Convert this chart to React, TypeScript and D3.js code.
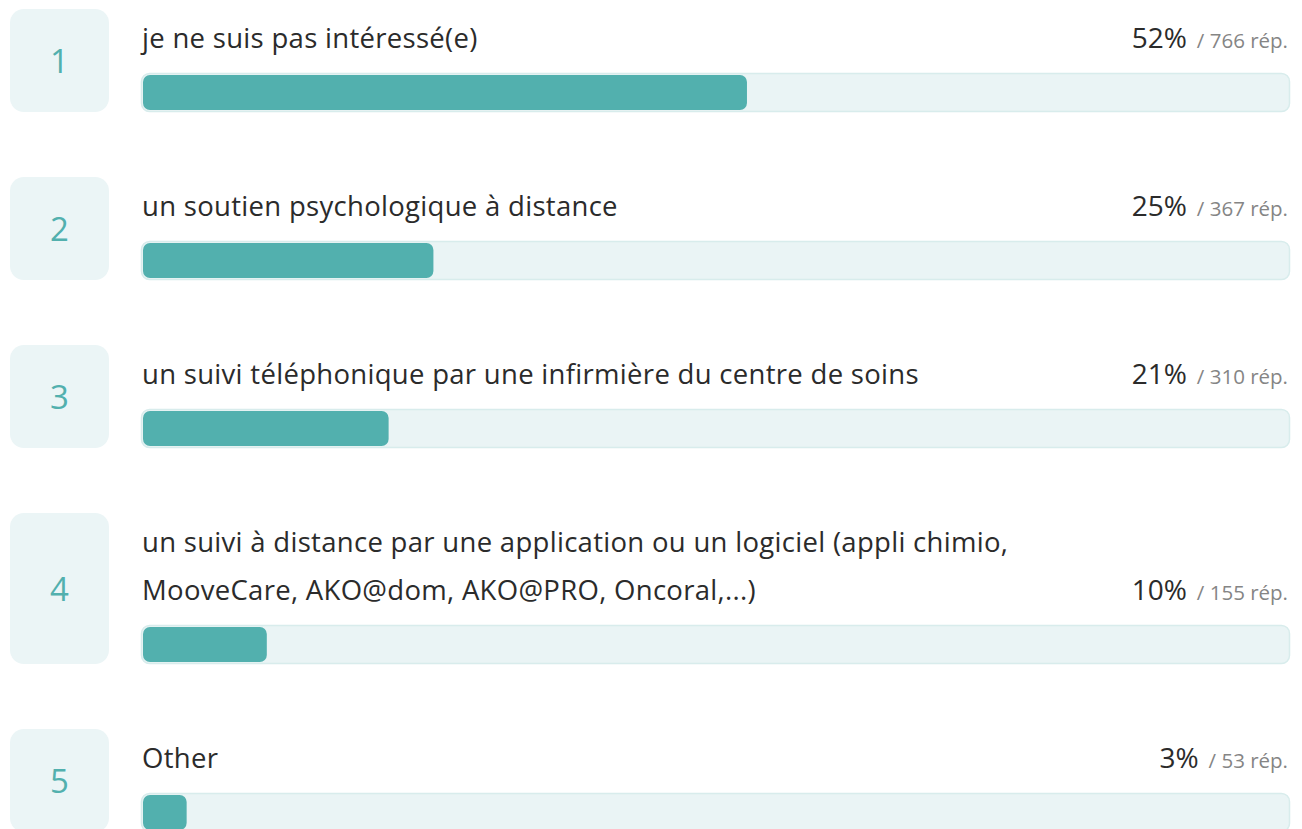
import React, { useEffect, useRef } from 'react';
import * as d3 from 'd3';

// answers, in rank order
const labels = [
  'je ne suis pas intéressé(e)',
  'un soutien psychologique à distance',
  'un suivi téléphonique par une infirmière du centre de soins',
  'un suivi à distance par une application ou un logiciel (appli chimio, MooveCare, AKO@dom, AKO@PRO, Oncoral,...)',
  'Other',
];
const counts = [766, 367, 310, 155, 53];
const percents = [52, 25, 21, 10, 3];
const totalRespondents = 1457;

const WIDTH = 1302;
const HEIGHT = 829;
const FONT = '"Open Sans", "Noto Sans", sans-serif';
const LABEL_SIZE = 27.5;
const LABEL_SPACING = 0.3;

const App = () => {
  const svgRef = useRef<SVGSVGElement>(null);

  useEffect(() => {
    document.body.style.margin = '0';
    const svg = d3.select(svgRef.current);
    svg.selectAll('*').remove();

    const boxX = 10;
    const boxW = 99;
    const trackX = 141;
    const trackW = 1149;
    const trackH = 39;
    const lineH = 48;
    const rowGap = 65;
    const maxLabelW = 960;

    const x = d3.scaleLinear()
      .domain([0, totalRespondents])
      .range([0, trackW - 4]);

    // measure helper for wrapping labels
    const measure = svg.append('text')
      .attr('font-family', FONT)
      .attr('font-size', LABEL_SIZE)
      .attr('letter-spacing', LABEL_SPACING)
      .attr('visibility', 'hidden');
    const wrap = (s: string) => {
      const words = s.split(' ');
      const lines: string[] = [];
      let cur = '';
      words.forEach(w => {
        const test = cur ? cur + ' ' + w : w;
        measure.text(test);
        if ((measure.node() as SVGTextElement).getComputedTextLength() > maxLabelW && cur) {
          lines.push(cur);
          cur = w;
        } else {
          cur = test;
        }
      });
      lines.push(cur);
      return lines;
    };

    let top = 9;
    labels.forEach((label, i) => {
      const lines = wrap(label);
      const lastBase = top + 39 + (lines.length - 1) * lineH;
      const trackY = lastBase + 25;
      const bottom = trackY + trackH;
      const g = svg.append('g');

      // rank box
      g.append('rect')
        .attr('x', boxX).attr('y', top)
        .attr('width', boxW).attr('height', bottom - top)
        .attr('rx', 14)
        .attr('fill', '#ebf5f6');
      g.append('text')
        .attr('x', boxX + boxW / 2)
        .attr('y', (top + bottom) / 2)
        .attr('text-anchor', 'middle')
        .attr('dominant-baseline', 'central')
        .attr('font-family', FONT)
        .attr('font-size', 33)
        .attr('fill', '#52b0ae')
        .text(i + 1);

      // label
      const t = g.append('text')
        .attr('font-family', FONT)
        .attr('font-size', LABEL_SIZE)
        .attr('letter-spacing', LABEL_SPACING)
        .attr('fill', '#2b2b2b');
      lines.forEach((ln, j) => {
        t.append('tspan')
          .attr('x', trackX + 1)
          .attr('y', top + 39 + j * lineH)
          .text(ln);
      });

      // percent / responses
      const pt = g.append('text')
        .attr('x', trackX + trackW - 2)
        .attr('y', lastBase)
        .attr('text-anchor', 'end')
        .attr('font-family', FONT);
      pt.append('tspan')
        .attr('font-size', 28)
        .attr('fill', '#2b2b2b')
        .text(`${percents[i]}%`);
      pt.append('tspan')
        .attr('dx', 10)
        .attr('font-size', 20.5)
        .attr('fill', '#858585')
        .text(`/ ${counts[i]} rép.`);

      // track + bar
      g.append('rect')
        .attr('x', trackX + 0.5).attr('y', trackY + 0.5)
        .attr('width', trackW - 1).attr('height', trackH - 1)
        .attr('rx', 8)
        .attr('fill', '#eaf4f5')
        .attr('stroke', '#d8ecec')
        .attr('stroke-width', 1.5);
      g.append('rect')
        .attr('x', trackX + 2).attr('y', trackY + 2)
        .attr('width', x(counts[i]) + 2).attr('height', trackH - 4)
        .attr('rx', 7)
        .attr('fill', '#52b0ae');

      top = bottom + rowGap;
    });

    measure.remove();
  }, []);

  return <svg ref={svgRef} width={WIDTH} height={HEIGHT} style={{ display: 'block' }} />;
};

export default App;
